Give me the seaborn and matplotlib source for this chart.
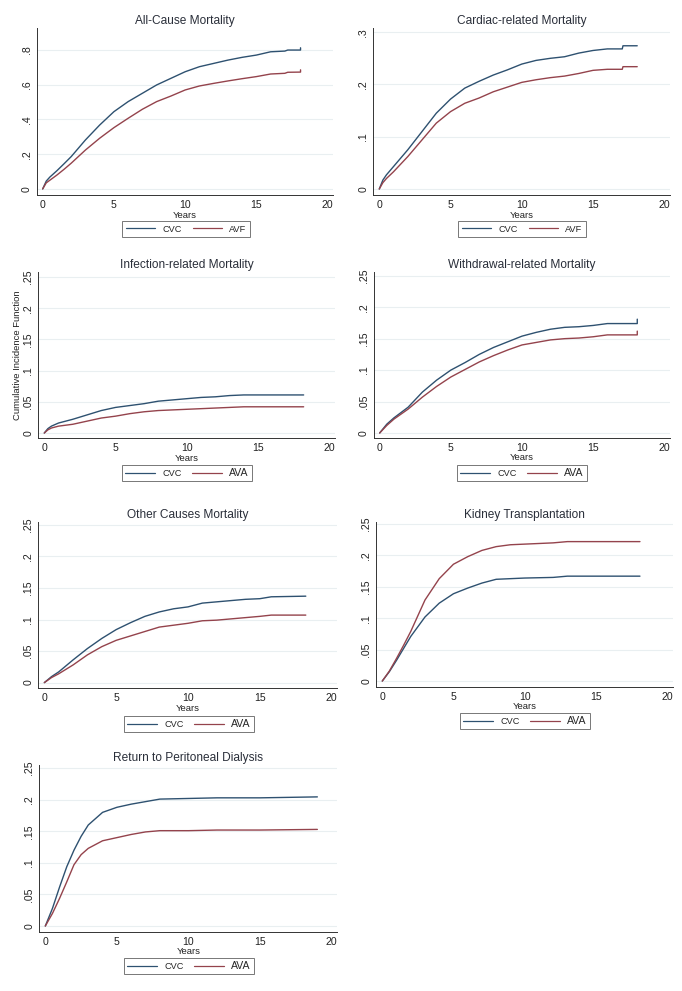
import matplotlib
matplotlib.use('Agg')
import matplotlib.pyplot as plt
import pandas as pd
import seaborn as sns
from matplotlib.lines import Line2D

W, H = 682, 991
CVC_COLOR = '#2e5170'
AVA_COLOR = '#94434c'

# ---- data (cumulative incidence by years) ----
allcause_years = [0, 0.25, 0.5, 1, 1.5, 2, 3, 4, 5, 6, 7, 8, 9, 10, 11, 12, 13, 14, 15, 16, 17, 17.2, 18.1, 18.1]
allcause_cvc = [0, .045, .068, .105, .145, .186, .282, .368, .445, .503, .551, .599, .637, .675, .704, .723, .742, .758, .771, .790, .794, .800, .800, .813]
allcause_avf = [0, .035, .050, .080, .113, .148, .224, .292, .353, .407, .459, .503, .535, .570, .593, .608, .622, .635, .647, .662, .666, .672, .673, .686]

cardiac_years = [0, 0.25, 0.5, 1, 2, 3, 4, 5, 6, 7, 8, 9, 10, 11, 12, 13, 14, 15, 16, 17.05, 17.1, 18.1]
cardiac_cvc = [0, .017, .027, .043, .075, .110, .145, .172, .193, .206, .218, .228, .239, .246, .250, .253, .260, .265, .268, .268, .274, .274]
cardiac_avf = [0, .012, .020, .033, .062, .094, .126, .148, .164, .174, .186, .195, .204, .209, .213, .216, .221, .227, .229, .229, .234, .234]

infection_years = [0, 0.25, 0.5, 1, 2, 3, 4, 5, 6, 7, 8, 9, 10, 11, 12, 13, 14, 15, 18.2]
infection_cvc = [0, .007, .011, .016, .022, .029, .036, .041, .044, .047, .051, .053, .055, .057, .058, .060, .061, .061, .061]
infection_ava = [0, .005, .008, .011, .014, .019, .024, .027, .031, .034, .036, .037, .038, .039, .040, .041, .042, .042, .042]

withdrawal_years = [0, 0.5, 1, 2, 3, 4, 5, 6, 7, 8, 9, 10, 11, 12, 13, 14, 15, 16, 18.1, 18.1]
withdrawal_cvc = [0, .014, .024, .041, .065, .084, .100, .112, .125, .136, .145, .154, .160, .165, .168, .169, .171, .174, .174, .181]
withdrawal_ava = [0, .012, .022, .038, .057, .074, .089, .101, .113, .123, .132, .140, .144, .148, .150, .151, .153, .156, .156, .162]

other_years = [0, 0.5, 1, 2, 3, 4, 5, 6, 7, 8, 9, 10, 11, 12, 13, 14, 15, 15.8, 18.2]
other_cvc = [0, .0095, .017, .036, .054, .070, .084, .095, .105, .112, .117, .120, .126, .128, .130, .132, .133, .136, .137]
other_ava = [0, .008, .014, .028, .044, .057, .067, .074, .081, .088, .091, .094, .098, .099, .101, .103, .105, .107, .107]

kidney_years = [0, 0.5, 1, 1.5, 2, 3, 4, 5, 6, 7, 8, 9, 10, 12, 13, 18.1]
kidney_cvc = [0, .015, .033, .052, .071, .102, .124, .139, .148, .156, .162, .163, .164, .165, .167, .167]
kidney_ava = [0, .016, .036, .057, .079, .129, .163, .186, .198, .208, .214, .217, .218, .220, .222, .222]

pd_years = [0, 0.5, 1, 1.5, 2, 2.5, 3, 4, 5, 6, 7, 8, 10, 12, 15, 19]
pd_cvc = [0, .028, .062, .094, .120, .142, .160, .180, .188, .193, .197, .201, .202, .203, .203, .2045]
pd_ava = [0, .020, .044, .070, .097, .113, .123, .135, .140, .145, .149, .151, .151, .152, .152, .153]

ticks_08 = [0, .2, .4, .6, .8]
ticks_08_lab = ['0', '.2', '.4', '.6', '.8']
ticks_03 = [0, .1, .2, .3]
ticks_03_lab = ['0', '.1', '.2', '.3']
ticks_025 = [0, .05, .1, .15, .2, .25]
ticks_025_lab = ['0', '.05', '.1', '.15', '.2', '.25']
x_ticks = [0, 5, 10, 15, 20]

# title, years, cvc, other, other label, yticks, yticklabels, ylim, axes px (l, t, r, b), legend centre px
panels = [
    ('All-Cause Mortality', allcause_years, allcause_cvc, allcause_avf, 'AVF',
     ticks_08, ticks_08_lab, (-0.035, 0.927), (36.7, 28, 333.3, 195), (186, 229)),
    ('Cardiac-related Mortality', cardiac_years, cardiac_cvc, cardiac_avf, 'AVF',
     ticks_03, ticks_03_lab, (-0.0115, 0.308), (373.3, 28, 670, 195), (522, 229)),
    ('Infection-related Mortality', infection_years, infection_cvc, infection_ava, 'AVA',
     ticks_025, ticks_025_lab, (-0.008, 0.258), (38.3, 272, 335, 438), (187, 473)),
    ('Withdrawal-related Mortality', withdrawal_years, withdrawal_cvc, withdrawal_ava, 'AVA',
     ticks_025, ticks_025_lab, (-0.0075, 0.256), (373.7, 272, 670, 437.7), (522, 473)),
    ('Other Causes Mortality', other_years, other_cvc, other_ava, 'AVA',
     ticks_025, ticks_025_lab, (-0.009, 0.255), (38.3, 521.7, 337.4, 688.3), (189, 724)),
    ('Kidney Transplantation', kidney_years, kidney_cvc, kidney_ava, 'AVA',
     ticks_025, ticks_025_lab, (-0.009, 0.2537), (376.3, 521.7, 672.7, 686.7), (525, 721)),
    ('Return to Peritoneal Dialysis', pd_years, pd_cvc, pd_ava, 'AVA',
     ticks_025, ticks_025_lab, (-0.009, 0.255), (39.3, 765, 337.4, 931.7), (189, 966)),
]

sns.set_style('white')
plt.rcParams['font.family'] = ['Liberation Sans', 'DejaVu Sans']

fig = plt.figure(figsize=(W / 100, H / 100), dpi=100)
fig.patch.set_facecolor('white')

for i, (title, yrs, cvc, other, other_lab, yt, ytl, ylim, px, leg) in enumerate(panels):
    l, t, r, b = px
    ax = fig.add_axes([l / W, 1 - b / H, (r - l) / W, (b - t) / H])
    df = pd.DataFrame({
        'Years': list(yrs) + list(yrs),
        'CIF': list(cvc) + list(other),
        'Access': ['CVC'] * len(yrs) + [other_lab] * len(yrs),
    })
    sns.lineplot(data=df, x='Years', y='CIF', hue='Access', estimator=None, sort=False,
                 palette={'CVC': CVC_COLOR, other_lab: AVA_COLOR}, linewidth=1.0,
                 legend=False, ax=ax)
    ax.set_xlim(-0.42, 20.4)
    ax.set_ylim(*ylim)
    ax.set_xticks(x_ticks)
    ax.set_xticklabels([str(v) for v in x_ticks], fontsize=7.6, color='#222222')
    ax.set_yticks(yt)
    ax.set_yticklabels(ytl, rotation=90, va='center', fontsize=7.6, color='#222222')
    ax.tick_params(axis='both', length=2.5, width=0.6, color='#333333', pad=1.2, direction='out')
    ax.yaxis.grid(True, color='#e9eff1', linewidth=0.8)
    ax.xaxis.grid(False)
    for side in ['top', 'right']:
        ax.spines[side].set_visible(False)
    for side in ['left', 'bottom']:
        ax.spines[side].set_color('#333333')
        ax.spines[side].set_linewidth(0.7)
    ax.set_title(title, fontsize=8.6, color='#2a2f3a', pad=3)
    ax.set_xlabel('Years', fontsize=6.8, labelpad=0.3, color='#222222')
    if i == 2:
        ax.set_ylabel('Cumulative Incidence Function', fontsize=6.8, color='#222222', labelpad=1)
    else:
        ax.set_ylabel('')

    handles = [Line2D([], [], color=CVC_COLOR, lw=0.9), Line2D([], [], color=AVA_COLOR, lw=0.9)]
    lg = ax.legend(handles, ['CVC', other_lab], loc='center', ncol=2,
                   bbox_to_anchor=(leg[0] / W, 1 - leg[1] / H), bbox_transform=fig.transFigure,
                   fontsize=6.6, frameon=True, fancybox=False, edgecolor='#555555',
                   handlelength=3.2, handletextpad=0.8, columnspacing=1.2,
                   borderpad=0.35, borderaxespad=0)
    lg.get_frame().set_linewidth(0.7)
    if other_lab == 'AVA':
        lg.get_texts()[1].set_fontsize(7.6)

fig.savefig('out.png', dpi=100, facecolor='white')
